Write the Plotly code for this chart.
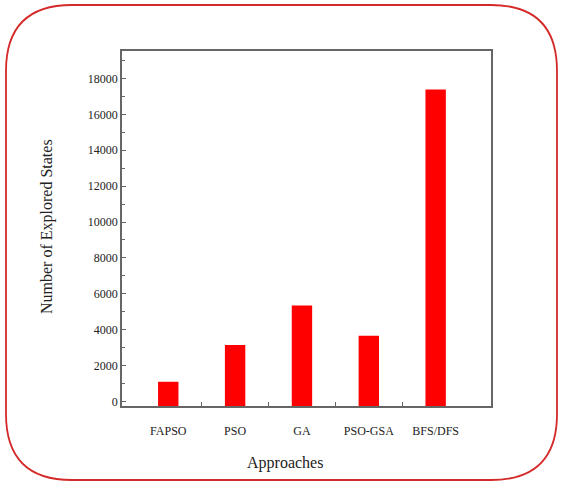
import plotly.graph_objects as go

# ---- data ----
approaches = ["FAPSO", "PSO", "GA", "PSO-GSA", "BFS/DFS"]
explored_states = [1100, 3150, 5350, 3660, 17380]
y_tick_values = [0, 2000, 4000, 6000, 8000, 10000, 12000, 14000, 16000, 18000]
y_tick_labels = ["0", "2000", "4000", "6000", "8000", "10000", "12000", "14000", "16000", "18000"]

# ---- layout geometry (pixels) ----
W, H = 562, 483
L, R, T, B = 122, 491, 51, 406
Y_MIN, Y_MAX = -250, 19530
FONT = "Liberation Serif"


def px(x):
    return (x - L) / (R - L)


def py(y):
    return (B - y) / (B - T)


x_pos = list(range(len(approaches)))

fig = go.Figure()
fig.add_trace(go.Bar(
    x=x_pos,
    y=[v - Y_MIN for v in explored_states],
    base=Y_MIN,
    width=0.305,
    marker=dict(color="#ff0000", line=dict(width=0)),
    customdata=explored_states,
    hovertemplate="%{customdata}<extra></extra>",
))

# rounded red border around the whole figure
x0, x1, y0, y1, r = 6, 557, 5, 480, 66
path = (
    f"M {px(x0 + r)},{py(y0)} L {px(x1 - r)},{py(y0)} "
    f"Q {px(x1)},{py(y0)} {px(x1)},{py(y0 + r)} "
    f"L {px(x1)},{py(y1 - r)} "
    f"Q {px(x1)},{py(y1)} {px(x1 - r)},{py(y1)} "
    f"L {px(x0 + r)},{py(y1)} "
    f"Q {px(x0)},{py(y1)} {px(x0)},{py(y1 - r)} "
    f"L {px(x0)},{py(y0 + r)} "
    f"Q {px(x0)},{py(y0)} {px(x0 + r)},{py(y0)} Z"
)
fig.add_shape(type="path", path=path, xref="paper", yref="paper",
              line=dict(color="#d42a2a", width=1.8), layer="above")

fig.add_annotation(text="Approaches", xref="paper", yref="paper",
                   x=px(285), y=py(463), xanchor="center", yanchor="middle",
                   showarrow=False,
                   font=dict(family=FONT, size=16, color="#222"))
fig.add_annotation(text="Number of Explored States", xref="paper", yref="paper",
                   x=px(47), y=py(227), xanchor="center", yanchor="middle",
                   showarrow=False, textangle=-90,
                   font=dict(family=FONT, size=16, color="#222"))

fig.update_layout(
    width=W, height=H,
    margin=dict(l=L, r=W - R, t=T, b=H - B, pad=0),
    paper_bgcolor="white", plot_bgcolor="white",
    showlegend=False,
    font=dict(family=FONT, size=12, color="#222"),
    xaxis=dict(
        range=[-0.692, 4.828],
        tickvals=x_pos, ticktext=approaches,
        ticks="", showgrid=False, zeroline=False,
        showline=True, linecolor="#666", linewidth=1.5, mirror=True,
        ticklabelstandoff=13,
        tickfont=dict(family=FONT, size=12, color="#222"),
        minor=dict(tickvals=[0.5, 1.5, 2.5, 3.5], ticks="inside",
                   ticklen=4, tickcolor="#666", tickwidth=1.2, showgrid=False),
    ),
    yaxis=dict(
        range=[Y_MIN, Y_MAX],
        tickvals=y_tick_values, ticktext=y_tick_labels,
        ticks="inside", ticklen=4, tickcolor="#666", tickwidth=1.2,
        showgrid=False, zeroline=False,
        showline=True, linecolor="#666", linewidth=1.5, mirror=True,
        tickfont=dict(family=FONT, size=12, color="#222"),
        minor=dict(dtick=1000, tick0=0, ticks="inside", ticklen=3,
                   tickcolor="#666", tickwidth=1.2, showgrid=False),
    ),
)

fig.write_html(
    "out.html",
    config={"displayModeBar": False},
    post_script="document.body.style.margin='0';document.body.style.overflow='hidden';",
)
